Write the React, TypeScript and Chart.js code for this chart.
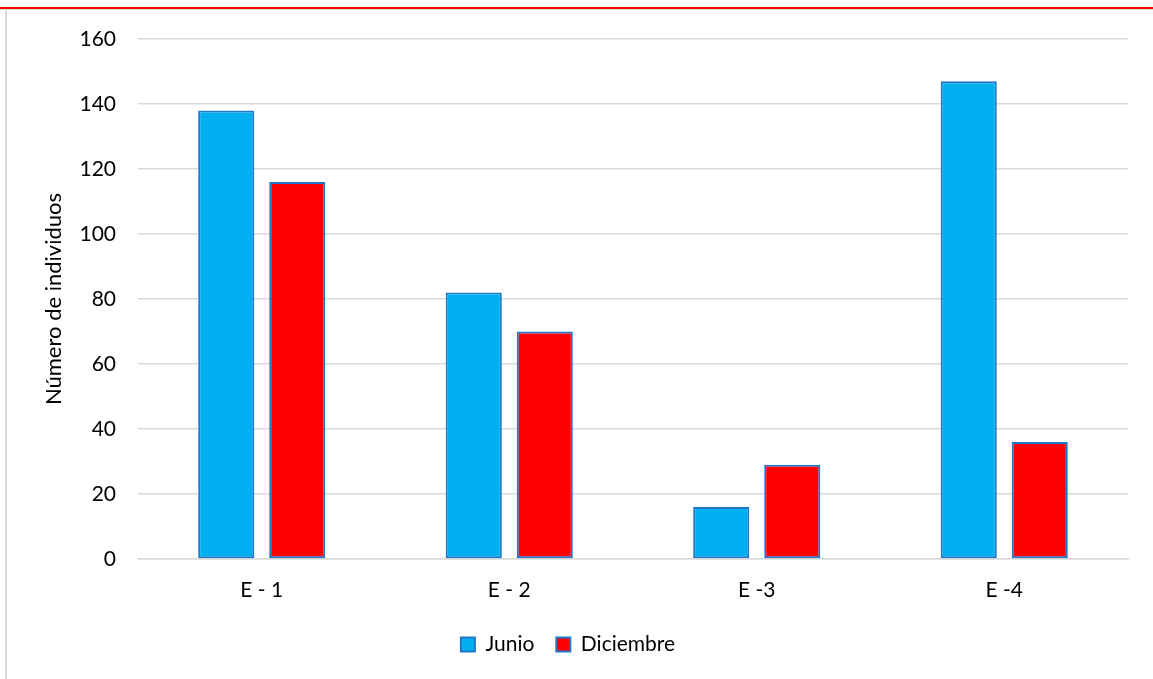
import React, { useEffect, useRef } from "react";
import { Chart, registerables } from "chart.js";

Chart.register(...registerables);

const categories = ["E - 1", "E - 2", "E -3", "E -4"];
const junio = [138, 82, 16, 147];
const diciembre = [116, 70, 29, 36];
const yTicks = [0, 20, 40, 60, 80, 100, 120, 140, 160];

const FONT = "Lato, 'Open Sans', sans-serif";

const framePlugin = {
  id: "frame",
  beforeDraw(chart: any) {
    const ctx = chart.ctx;
    ctx.save();
    ctx.fillStyle = "#ffffff";
    ctx.fillRect(0, 0, chart.width, chart.height);
    ctx.fillStyle = "#d9d9d9";
    ctx.fillRect(5, 9, 2, chart.height - 9);
    ctx.fillRect(0, 9, chart.width, 1);
    ctx.fillStyle = "#ff0000";
    ctx.fillRect(0, 7, chart.width, 2);
    ctx.restore();
  },
};

export default function App() {
  const ref = useRef<HTMLCanvasElement>(null);
  useEffect(() => {
    if (!ref.current) return;
    const chart = new Chart(ref.current, {
      type: "bar",
      data: {
        labels: categories,
        datasets: [
          {
            label: "Junio",
            data: junio,
            backgroundColor: "#00B0F0",
            borderColor: "#1F78C8",
            borderWidth: 2,
            borderSkipped: false,
            barPercentage: 0.79,
            categoryPercentage: 0.574,
          },
          {
            label: "Diciembre",
            data: diciembre,
            backgroundColor: "#FF0000",
            borderColor: "#1F78C8",
            borderWidth: 2,
            borderSkipped: false,
            barPercentage: 0.79,
            categoryPercentage: 0.574,
          },
        ],
      },
      options: {
        animation: false,
        responsive: false,
        maintainAspectRatio: false,
        layout: { padding: { left: 8, right: 25, top: 39, bottom: 14 } },
        plugins: {
          legend: {
            position: "bottom",
            labels: {
              boxWidth: 14,
              boxHeight: 14,
              padding: 22,
              color: "#000",
              font: { family: FONT, size: 21 },
              useBorderRadius: false,
            },
          },
          tooltip: { enabled: false },
        },
        scales: {
          x: {
            grid: { display: false },
            border: { color: "#d9d9d9", width: 1.5 },
            ticks: {
              color: "#000",
              font: { family: FONT, size: 21 },
              padding: 11,
            },
            afterFit(scale: any) {
              scale.height = 53;
            },
          },
          y: {
            min: 0,
            max: 160,
            afterBuildTicks(scale: any) {
              scale.ticks = yTicks.map((v) => ({ value: v }));
            },
            grid: { color: "#d9d9d9", lineWidth: 1.5, drawTicks: false },
            border: { display: false },
            ticks: {
              color: "#000",
              font: { family: FONT, size: 21 },
              padding: 22,
            },
            title: {
              display: true,
              text: "Número de individuos",
              color: "#000",
              font: { family: FONT, size: 22 },
              padding: { top: 33, bottom: 0 },
            },
            afterFit(scale: any) {
              scale.width = 130;
            },
          },
        },
      },
      plugins: [framePlugin],
    });
    return () => chart.destroy();
  }, []);
  return (
    <canvas
      ref={ref}
      width={1153}
      height={679}
      style={{ position: "fixed", left: 0, top: 0, width: 1153, height: 679 }}
    />
  );
}
